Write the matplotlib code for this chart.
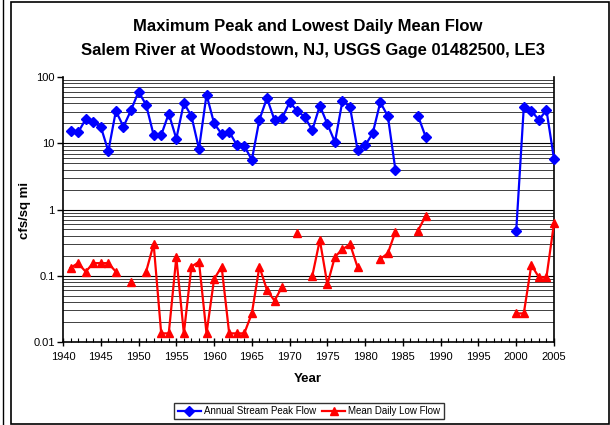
import numpy as np
import matplotlib
matplotlib.use("Agg")
import matplotlib.pyplot as plt
from matplotlib.ticker import FixedLocator, NullFormatter
from matplotlib.patches import Rectangle
from matplotlib.lines import Line2D

plt.rcParams['font.family'] = ['Liberation Sans', 'DejaVu Sans']

nan = np.nan
years = list(range(1941, 2006))

# Annual stream peak flow (cfs/sq mi), 1941-2005
peak_flow = [
    15.5, 14.6, 23, 20.7, 17.8, 7.6, 30.7, 17.8, 31.4, 60,      # 1941-1950
    38, 13.3, 13.3, 28, 11.7, 40.5, 25.8, 8.2, 54, 20,          # 1951-1960
    13.8, 15, 9.4, 9.1, 5.6, 22.7, 48, 22.4, 23.8, 41.5,        # 1961-1970
    31, 24.9, 15.8, 36.9, 19.5, 10.4, 44, 34.9, 7.9, 9.3,       # 1971-1980
    14.1, 41.5, 25.8, 4.0, nan, nan, 25.8, 12.6, nan, nan,      # 1981-1990
    nan, nan, nan, nan, nan, nan, nan, nan, nan, 0.48,          # 1991-2000
    35, 31, 22.4, 31.8, 5.8,                                    # 2001-2005
]

# Mean daily low flow (cfs/sq mi), 1941-2005
low_flow = [
    0.132, 0.155, 0.115, 0.155, 0.155, 0.155, 0.115, nan, 0.08, nan,       # 1941-1950
    0.115, 0.30, 0.0135, 0.0135, 0.19, 0.0135, 0.137, 0.163, 0.0135, 0.089,  # 1951-1960
    0.137, 0.0135, 0.0135, 0.0135, 0.027, 0.137, 0.061, 0.042, 0.068, nan,   # 1961-1970
    0.447, nan, 0.099, 0.347, 0.074, 0.194, 0.25, 0.30, 0.134, nan,         # 1971-1980
    nan, 0.179, 0.218, 0.46, nan, nan, 0.48, 0.80, nan, nan,                # 1981-1990
    nan, nan, nan, nan, nan, nan, nan, nan, nan, 0.027,                     # 1991-2000
    0.027, 0.145, 0.095, 0.095, 0.62,                                       # 2001-2005
]

title_lines = ["Maximum Peak and Lowest Daily Mean Flow",
               "Salem River at Woodstown, NJ, USGS Gage 01482500, LE3"]
series_labels = ["Annual Stream Peak Flow", "Mean Daily Low Flow"]
x_ticks = list(range(1940, 2006, 5))
y_ticks = [0.01, 0.1, 1, 10, 100]
y_ticklabels = ["0.01", "0.1", "1", "10", "100"]

W, H = 610, 425
fig = plt.figure(figsize=(W / 100, H / 100), dpi=100)

# outer borders
fig.add_artist(Line2D([3 / W, 3 / W], [0, 1], color='black', lw=1.0, transform=fig.transFigure))
fig.add_artist(Rectangle((11 / W, 1 / H), (W - 12) / W, (H - 3) / H, transform=fig.transFigure,
                         fill=False, edgecolor='black', lw=1.2))

left, right, top, bottom = 63, 554, 77, 342
ax = fig.add_axes([left / W, 1 - bottom / H, (right - left) / W, (bottom - top) / H])
ax.set_yscale('log')
ax.set_xlim(1940, 2005)
ax.set_ylim(0.01, 100)

# grid lines
for dec in [0.01, 0.1, 1, 10]:
    for m in range(1, 10):
        v = dec * m
        if v <= 0.01 or v >= 100:
            continue
        ax.axhline(v, color='black' if m == 1 else '#404040', lw=0.8 if m == 1 else 0.7, zorder=1)

ax.plot(years, peak_flow, color='#0000FF', lw=1.6, marker='D', ms=4.6, markeredgecolor='#0000FF',
        markerfacecolor='#0000FF', zorder=3, clip_on=False, label=series_labels[0])
ax.plot(years, low_flow, color='#FF0000', lw=1.6, marker='^', ms=5.8, markeredgecolor='#FF0000',
        markerfacecolor='#FF0000', zorder=3, clip_on=False, label=series_labels[1])

ax.yaxis.set_major_locator(FixedLocator(y_ticks))
ax.set_yticklabels(y_ticklabels)
ax.yaxis.set_minor_locator(FixedLocator([]))
ax.xaxis.set_major_locator(FixedLocator(x_ticks))
ax.xaxis.set_minor_locator(FixedLocator(list(range(1940, 2006))))
ax.xaxis.set_minor_formatter(NullFormatter())
ax.tick_params(axis='x', which='major', direction='inout', length=6, width=1, labelsize=8, pad=4)
ax.tick_params(axis='x', which='minor', direction='in', length=3, width=0.8)
ax.tick_params(axis='y', which='major', direction='out', length=4, width=1, labelsize=8, pad=2)

for s in ['left', 'bottom', 'right']:
    ax.spines[s].set_linewidth(1.2)
ax.spines['top'].set_visible(False)

fig.text(308 / W, 1 - 27 / H, title_lines[0], ha='center', va='center', fontsize=12, fontweight='bold')
fig.text(313 / W, 1 - 50 / H, title_lines[1], ha='center', va='center', fontsize=12, fontweight='bold')
fig.text(25 / W, 1 - 210 / H, "cfs/sq mi", ha='center', va='center', rotation=90, fontsize=9.5, fontweight='bold')
fig.text(308 / W, 1 - 379 / H, "Year", ha='center', va='center', fontsize=9.5, fontweight='bold')

leg = fig.legend(loc='center', bbox_to_anchor=(309 / W, 1 - 411 / H), ncol=2, fontsize=7,
                 frameon=True, fancybox=False, edgecolor='black', handlelength=2.4,
                 columnspacing=0.6, handletextpad=0.3, borderpad=0.35, borderaxespad=0)
leg.get_frame().set_linewidth(1.0)

fig.savefig("out.png", dpi=100)
